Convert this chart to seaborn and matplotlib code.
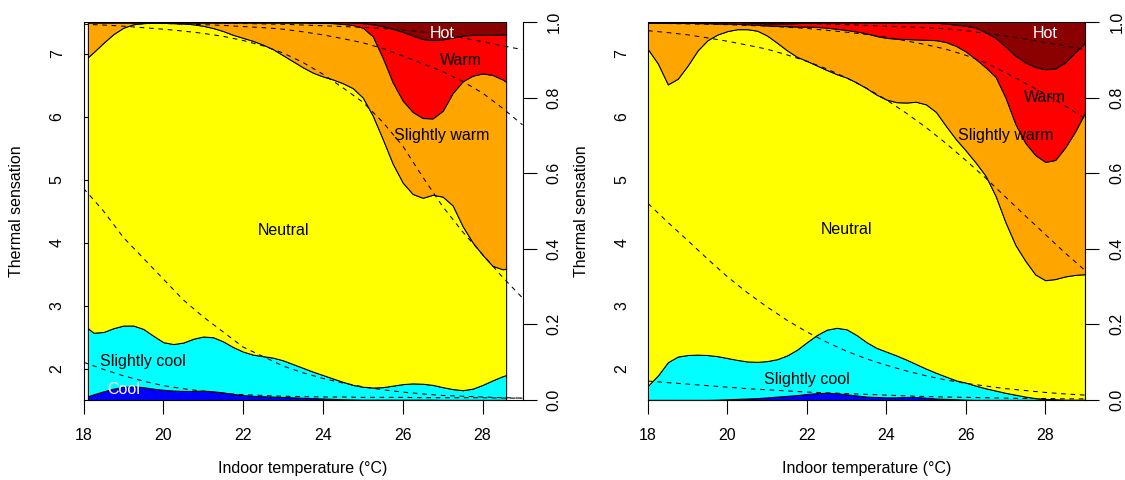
import numpy as np
import matplotlib
matplotlib.use("Agg")
import matplotlib.pyplot as plt
import seaborn as sns

# ---------------------------------------------------------------- data
categories = ["Cool", "Slightly cool", "Neutral", "Slightly warm", "Warm", "Hot"]
category_colors = ["#0000FF", "#00FFFF", "#FFFF00", "#FFA500", "#FF0000", "#8B0000"]

# Left panel: cumulative share at the upper edge of each class
left_temp = [18.11, 18.25, 18.5, 18.75, 19.0, 19.25, 19.5, 19.75, 20.0, 20.25,
             20.5, 20.75, 21.0, 21.25, 21.5, 21.75, 22.0, 22.25, 22.5, 22.75,
             23.0, 23.25, 23.5, 23.75, 24.0, 24.25, 24.5, 24.75, 25.0, 25.25,
             25.5, 25.75, 26.0, 26.25, 26.5, 26.75, 27.0, 27.25, 27.5, 27.75,
             28.0, 28.25, 28.5, 28.59]
left_cool = [0.010, 0.015, 0.023, 0.030, 0.035, 0.036, 0.034, 0.030, 0.027, 0.025,
             0.024, 0.024, 0.025, 0.023, 0.020, 0.016, 0.013, 0.011, 0.010, 0.009,
             0.008, 0.007, 0.006, 0.005, 0.004, 0.003, 0.002, 0.0015, 0.001, 0.001,
             0.001, 0.001, 0.001, 0.001, 0.001, 0.001, 0.0005, 0.0005, 0.0005, 0.0005,
             0.0005, 0.0005, 0.0005, 0.0005]
left_slightly_cool = [0.190, 0.178, 0.180, 0.190, 0.197, 0.197, 0.188, 0.170, 0.153, 0.148,
                      0.152, 0.162, 0.168, 0.166, 0.155, 0.140, 0.128, 0.120, 0.116, 0.112,
                      0.105, 0.095, 0.085, 0.075, 0.066, 0.057, 0.048, 0.040, 0.035, 0.033,
                      0.034, 0.038, 0.042, 0.044, 0.043, 0.040, 0.034, 0.029, 0.026, 0.030,
                      0.040, 0.052, 0.063, 0.066]
left_neutral = [0.907, 0.920, 0.945, 0.968, 0.985, 0.994, 0.997, 0.998, 0.998, 0.997,
                0.996, 0.994, 0.990, 0.984, 0.976, 0.966, 0.958, 0.950, 0.940, 0.928,
                0.912, 0.896, 0.880, 0.866, 0.856, 0.848, 0.838, 0.825, 0.800, 0.752,
                0.690, 0.625, 0.575, 0.545, 0.535, 0.543, 0.538, 0.515, 0.460, 0.417,
                0.384, 0.355, 0.346, 0.347]
left_slightly_warm = [0.999, 0.999, 0.999, 0.999, 0.999, 0.999, 0.999, 0.999, 0.999, 0.999,
                      0.999, 0.999, 0.999, 0.999, 0.999, 0.999, 0.999, 0.999, 0.999, 0.999,
                      0.999, 0.999, 0.999, 0.998, 0.998, 0.997, 0.995, 0.992, 0.985, 0.962,
                      0.905, 0.840, 0.792, 0.762, 0.746, 0.745, 0.765, 0.812, 0.843, 0.858,
                      0.864, 0.860, 0.848, 0.842]
left_warm = [0.9995, 0.9995, 0.9995, 0.9995, 0.9995, 0.9995, 0.9995, 0.9995, 0.9995, 0.9995,
             0.9995, 0.9995, 0.9995, 0.9995, 0.9995, 0.9995, 0.9995, 0.9995, 0.9995, 0.9995,
             0.9995, 0.9995, 0.9995, 0.9995, 0.9995, 0.9995, 0.9995, 0.999, 0.997, 0.994,
             0.989, 0.982, 0.974, 0.964, 0.955, 0.952, 0.954, 0.959, 0.964, 0.966,
             0.966, 0.966, 0.967, 0.968]

# Right panel: cumulative share at the upper edge of each class
right_temp = [18.0, 18.25, 18.5, 18.75, 19.0, 19.25, 19.5, 19.75, 20.0, 20.25,
              20.5, 20.75, 21.0, 21.25, 21.5, 21.75, 22.0, 22.25, 22.5, 22.75,
              23.0, 23.25, 23.5, 23.75, 24.0, 24.25, 24.5, 24.75, 25.0, 25.25,
              25.5, 25.75, 26.0, 26.25, 26.5, 26.75, 27.0, 27.25, 27.5, 27.75,
              28.0, 28.25, 28.5, 28.75, 29.0]
right_cool = [0.0005, 0.0005, 0.0005, 0.0005, 0.0005, 0.0005, 0.0005, 0.001, 0.002, 0.003,
              0.004, 0.005, 0.007, 0.009, 0.011, 0.013, 0.016, 0.018, 0.019, 0.018,
              0.015, 0.012, 0.009, 0.008, 0.007, 0.007, 0.008, 0.008, 0.006, 0.004,
              0.003, 0.002, 0.001, 0.0005, 0.0005, 0.0005, 0.0005, 0.0005, 0.0005, 0.0005,
              0.0005, 0.0005, 0.0005, 0.0005, 0.0005]
right_slightly_cool = [0.038, 0.065, 0.100, 0.115, 0.119, 0.120, 0.119, 0.116, 0.111, 0.106,
                       0.102, 0.101, 0.103, 0.108, 0.118, 0.133, 0.153, 0.172, 0.186, 0.191,
                       0.187, 0.172, 0.153, 0.138, 0.128, 0.118, 0.107, 0.095, 0.083, 0.072,
                       0.062, 0.052, 0.046, 0.038, 0.031, 0.025, 0.019, 0.014, 0.009, 0.005,
                       0.003, 0.002, 0.001, 0.001, 0.001]
right_neutral = [0.928, 0.890, 0.835, 0.850, 0.885, 0.925, 0.952, 0.967, 0.976, 0.981,
                 0.981, 0.977, 0.964, 0.945, 0.925, 0.908, 0.897, 0.885, 0.873, 0.862,
                 0.853, 0.840, 0.825, 0.808, 0.795, 0.788, 0.787, 0.789, 0.782, 0.762,
                 0.725, 0.690, 0.660, 0.628, 0.593, 0.540, 0.470, 0.410, 0.368, 0.332,
                 0.317, 0.320, 0.327, 0.331, 0.333]
right_slightly_warm = [0.998, 0.998, 0.998, 0.998, 0.998, 0.997, 0.997, 0.996, 0.996, 0.995,
                       0.994, 0.993, 0.991, 0.990, 0.989, 0.988, 0.988, 0.987, 0.985, 0.982,
                       0.979, 0.975, 0.970, 0.963, 0.958, 0.956, 0.955, 0.954, 0.953, 0.952,
                       0.947, 0.937, 0.922, 0.902, 0.880, 0.855, 0.800, 0.730, 0.680, 0.648,
                       0.630, 0.635, 0.668, 0.710, 0.760]
right_warm = [0.9995, 0.9995, 0.9995, 0.9995, 0.9995, 0.9995, 0.9995, 0.9995, 0.9995, 0.9995,
              0.999, 0.997, 0.996, 0.996, 0.996, 0.997, 0.998, 0.999, 0.999, 0.999,
              0.999, 0.999, 0.999, 0.999, 0.999, 0.999, 0.999, 0.999, 0.999, 0.998,
              0.996, 0.993, 0.990, 0.985, 0.973, 0.958, 0.935, 0.911, 0.893, 0.881,
              0.875, 0.877, 0.893, 0.920, 0.945]

# Fitted cumulative probabilities (dashed curves)
fit_temp = [18.0, 18.5, 19.0, 19.5, 20.0, 20.5, 21.0, 21.5, 22.0, 22.5, 23.0, 23.5,
            24.0, 24.5, 25.0, 25.5, 26.0, 26.5, 27.0, 27.5, 28.0, 28.5, 29.0]
left_fit1 = [0.100, 0.081, 0.064, 0.050, 0.038, 0.030, 0.023, 0.018, 0.014, 0.012, 0.010, 0.009,
             0.008, 0.008, 0.007, 0.007, 0.007, 0.006, 0.006, 0.006, 0.006, 0.005, 0.005]
left_fit2 = [0.560, 0.500, 0.430, 0.375, 0.320, 0.265, 0.220, 0.180, 0.140, 0.115, 0.090, 0.072,
             0.057, 0.045, 0.035, 0.027, 0.021, 0.016, 0.012, 0.010, 0.008, 0.006, 0.005]
left_fit3 = [0.994, 0.992, 0.989, 0.985, 0.981, 0.976, 0.970, 0.962, 0.951, 0.937, 0.918, 0.893,
             0.862, 0.826, 0.788, 0.735, 0.672, 0.590, 0.512, 0.445, 0.385, 0.325, 0.270]
left_fit4 = [0.999, 0.9985, 0.998, 0.997, 0.996, 0.9945, 0.993, 0.991, 0.988, 0.985, 0.981, 0.974,
             0.966, 0.956, 0.945, 0.930, 0.910, 0.890, 0.869, 0.843, 0.812, 0.772, 0.728]
left_fit5 = [0.9995, 0.9993, 0.999, 0.9988, 0.9985, 0.998, 0.9975, 0.997, 0.996, 0.995, 0.994, 0.992,
             0.990, 0.988, 0.986, 0.983, 0.979, 0.974, 0.967, 0.958, 0.948, 0.937, 0.927]

right_fit1 = [0.050, 0.046, 0.042, 0.038, 0.034, 0.030, 0.027, 0.024, 0.021, 0.019, 0.017, 0.015,
              0.013, 0.011, 0.009, 0.008, 0.007, 0.006, 0.005, 0.004, 0.004, 0.003, 0.003]
right_fit2 = [0.520, 0.470, 0.422, 0.373, 0.326, 0.284, 0.246, 0.211, 0.180, 0.153, 0.129, 0.109,
              0.092, 0.077, 0.064, 0.053, 0.044, 0.037, 0.030, 0.025, 0.020, 0.016, 0.013]
right_fit3 = [0.977, 0.972, 0.966, 0.958, 0.949, 0.939, 0.928, 0.913, 0.896, 0.876, 0.852, 0.825,
              0.794, 0.759, 0.721, 0.679, 0.634, 0.587, 0.537, 0.487, 0.438, 0.389, 0.343]
right_fit4 = [0.997, 0.996, 0.995, 0.994, 0.993, 0.991, 0.989, 0.986, 0.983, 0.978, 0.973, 0.967,
              0.960, 0.950, 0.940, 0.928, 0.912, 0.892, 0.866, 0.838, 0.809, 0.778, 0.745]
right_fit5 = [0.9992, 0.999, 0.9988, 0.9985, 0.998, 0.9975, 0.997, 0.9965, 0.996, 0.995, 0.993, 0.991,
              0.989, 0.987, 0.985, 0.982, 0.977, 0.970, 0.963, 0.955, 0.946, 0.937, 0.927]

sensation_ticks = [2, 3, 4, 5, 6, 7]
probability_ticks = [0.0, 0.2, 0.4, 0.6, 0.8, 1.0]
probability_labels = ["0.0", "0.2", "0.4", "0.6", "0.8", "1.0"]
temperature_ticks = [18, 20, 22, 24, 26, 28]

left_labels = ["Hot", "Warm", "Slightly warm", "Neutral", "Slightly cool", "Cool"]
left_label_x = [27.0, 27.45, 26.98, 23.0, 19.5, 19.0]
left_label_p = [0.970, 0.899, 0.701, 0.448, 0.102, 0.027]
left_label_colors = ["white", "black", "black", "black", "black", "white"]

right_labels = ["Hot", "Warm", "Slightly warm", "Neutral", "Slightly cool"]
right_label_x = [28.0, 27.98, 27.0, 23.0, 22.0]
right_label_p = [0.970, 0.801, 0.701, 0.450, 0.053]
right_label_colors = ["white", "black", "black", "black", "black"]

# ---------------------------------------------------------------- style
sns.set_theme(style="ticks")
plt.rcParams["font.family"] = ["Liberation Sans", "DejaVu Sans"]
plt.rcParams["text.color"] = "black"
plt.rcParams["axes.labelcolor"] = "black"
FS = 11.5
LW = 0.75
DASH = (0, (4.5, 4.5))


def draw_panel(fig, rect, temp, edges, fits, labels, label_x, label_p, label_colors):
    ax = fig.add_axes(rect)
    ax.set_xlim(18, 29)
    ax.set_ylim(1.5, 7.5)
    axr = ax.twinx()

    # stacked class areas
    lower = np.zeros(len(temp))
    for color, upper in zip(category_colors, edges + [np.ones(len(temp))]):
        upper = np.asarray(upper, dtype=float)
        coll = axr.fill_between(temp, lower, upper, facecolor=color,
                                edgecolor="black", linewidth=LW)
        coll.set_clip_on(False)
        lower = upper

    # fitted cumulative probabilities
    for fit in fits:
        sns.lineplot(x=fit_temp, y=fit, ax=axr, color="black", linewidth=LW,
                     linestyle=DASH, estimator=None, sort=False)

    for text, x, p, c in zip(labels, label_x, label_p, label_colors):
        axr.text(x, p, text, ha="center", va="center", color=c, fontsize=FS)

    axr.set_ylim(0, 1)
    axr.set_xlim(18, 29)

    # left axis: thermal sensation scale
    ax.set_xticks(temperature_ticks)
    ax.set_xticklabels([str(t) for t in temperature_ticks], fontsize=FS)
    ax.set_yticks(sensation_ticks)
    ax.set_yticklabels([str(t) for t in sensation_ticks], fontsize=FS)
    ax.tick_params(axis="x", direction="out", length=10, width=0.8, pad=10,
                   colors="black", bottom=True)
    ax.tick_params(axis="y", direction="in", length=7, width=0.8, pad=13.5,
                   labelrotation=90, colors="black", left=True, right=False)
    plt.setp(ax.get_yticklabels(), va="center")
    for side in ("top", "right"):
        ax.spines[side].set_visible(False)
    for side in ("left", "bottom"):
        ax.spines[side].set_color("black")
        ax.spines[side].set_linewidth(0.8)

    # right axis: probability
    axr.set_yticks(probability_ticks)
    axr.set_yticklabels(probability_labels, fontsize=FS)
    axr.tick_params(axis="y", direction="out", length=10, width=0.8, pad=7.5,
                    labelrotation=90, colors="black", right=True)
    plt.setp(axr.get_yticklabels(), va="center")
    for side in ("top", "left", "bottom"):
        axr.spines[side].set_visible(False)
    axr.spines["right"].set_color("black")
    axr.spines["right"].set_linewidth(0.8)
    axr.set_ylabel("")

    ax.set_xlabel("Indoor temperature (°C)", fontsize=FS, va="center", color="black")
    ax.xaxis.set_label_coords(0.5, -0.18)
    ax.set_ylabel("Thermal sensation", fontsize=FS, va="center", color="black")
    ax.yaxis.set_label_coords(-0.152, 0.5)
    return ax, axr


fig = plt.figure(figsize=(11.25, 4.8), dpi=100)
fig.patch.set_facecolor("white")

draw_panel(fig, [83.5 / 1125, 80 / 480, 439 / 1125, 378 / 480],
           left_temp,
           [left_cool, left_slightly_cool, left_neutral, left_slightly_warm, left_warm],
           [left_fit1, left_fit2, left_fit3, left_fit4, left_fit5],
           left_labels, left_label_x, left_label_p, left_label_colors)

draw_panel(fig, [648 / 1125, 80 / 480, 437 / 1125, 378 / 480],
           right_temp,
           [right_cool, right_slightly_cool, right_neutral, right_slightly_warm, right_warm],
           [right_fit1, right_fit2, right_fit3, right_fit4, right_fit5],
           right_labels, right_label_x, right_label_p, right_label_colors)

fig.savefig("out.png", dpi=100, facecolor="white")
